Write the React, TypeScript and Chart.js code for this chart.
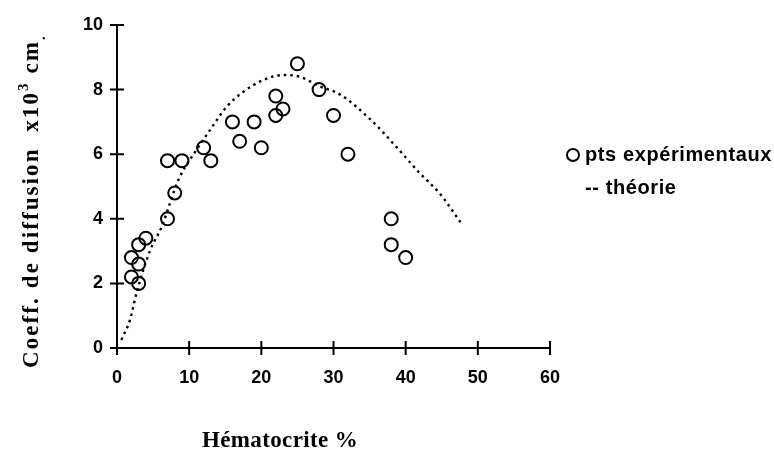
import React, { useEffect, useRef } from "react";
import { Chart, registerables } from "chart.js";

Chart.register(...registerables);

// ---- data ----
const xTicks = [0, 10, 20, 30, 40, 50, 60];
const yTicks = [0, 2, 4, 6, 8, 10];

const expX = [2, 2, 3, 3, 3, 4, 7, 7, 8, 9, 12, 13, 16, 17, 19, 20, 22, 22, 23, 25, 28, 30, 32, 38, 38, 40];
const expY = [2.8, 2.2, 3.2, 2.6, 2.0, 3.4, 4.0, 5.8, 4.8, 5.8, 6.2, 5.8, 7.0, 6.4, 7.0, 6.2, 7.8, 7.2, 7.4, 8.8, 8.0, 7.2, 6.0, 4.0, 3.2, 2.8];

const theoryX = [0.6, 1.8, 2.7, 4.6, 6.2, 8.5, 11, 12.9, 15.2, 17.5, 20.3, 23, 25.3, 28.1, 30.9, 35, 38.7, 42, 44.7, 47.7];
const theoryY = [0.25, 0.87, 1.7, 3.03, 3.76, 5.2, 6.13, 6.75, 7.47, 7.93, 8.3, 8.45, 8.4, 8.1, 7.85, 7.1, 6.23, 5.4, 4.79, 3.86];

const legendLabels = ["pts expérimentaux", "-- théorie"];
const xTitle = "Hématocrite %";
const yTitleMain = "Coeff. de diffusion  x10";
const yTitleSup = "3";
const yTitleUnit = " cm";

const TICK_FONT = { family: "'Liberation Sans', Arial, sans-serif", size: 18, weight: "bold" as const };

function drawSpaced(ctx: CanvasRenderingContext2D, text: string, x: number, y: number, spacing: number) {
  let cx = x;
  for (const ch of text) {
    ctx.fillText(ch, cx, y);
    cx += ctx.measureText(ch).width + spacing;
  }
  return cx;
}

function spacedWidth(ctx: CanvasRenderingContext2D, text: string, spacing: number) {
  let w = 0;
  for (const ch of text) w += ctx.measureText(ch).width + spacing;
  return w;
}

const decorPlugin = {
  id: "decor",
  afterDraw(chart: any) {
    const { ctx, chartArea: ca, scales } = chart;
    const xs = scales.x;
    const ys = scales.y;
    ctx.save();
    ctx.strokeStyle = "#000";
    ctx.fillStyle = "#000";
    ctx.lineWidth = 2;
    // axes
    ctx.beginPath();
    ctx.moveTo(ca.left, ys.getPixelForValue(yTicks[yTicks.length - 1]));
    ctx.lineTo(ca.left, ca.bottom);
    ctx.lineTo(xs.getPixelForValue(xTicks[xTicks.length - 1]), ca.bottom);
    ctx.stroke();
    // crossing ticks
    ctx.beginPath();
    for (const v of yTicks) {
      const py = ys.getPixelForValue(v);
      ctx.moveTo(ca.left - 7, py);
      ctx.lineTo(ca.left + 7, py);
    }
    for (const v of xTicks) {
      const px = xs.getPixelForValue(v);
      ctx.moveTo(px, ca.bottom - 7);
      ctx.lineTo(px, ca.bottom + 7);
    }
    ctx.stroke();

    // legend
    const lx = ca.right + 23;
    ctx.beginPath();
    ctx.arc(lx, 155, 6, 0, Math.PI * 2);
    ctx.stroke();
    ctx.font = "bold 20px 'Liberation Sans', Arial, sans-serif";
    ctx.textAlign = "left";
    ctx.textBaseline = "alphabetic";
    drawSpaced(ctx, legendLabels[0], lx + 12, 161, 0.6);
    drawSpaced(ctx, legendLabels[1], lx + 12, 194, 0.6);

    // x title
    ctx.font = "bold 23px 'Liberation Serif', 'Times New Roman', serif";
    {
      const natural = spacedWidth(ctx, xTitle, 0);
      const sp = (156 - natural) / xTitle.length;
      drawSpaced(ctx, xTitle, ca.left + 85, 447, sp);
    }

    // y title (rotated)
    ctx.save();
    ctx.translate(38, 368);
    ctx.rotate(-Math.PI / 2);
    const mainFont = "bold 23px 'Liberation Serif', 'Times New Roman', serif";
    const supFont = "bold 15px 'Liberation Serif', 'Times New Roman', serif";
    ctx.font = mainFont;
    const wMain = spacedWidth(ctx, yTitleMain, 0) + spacedWidth(ctx, yTitleUnit, 0);
    ctx.font = supFont;
    const wSup = spacedWidth(ctx, yTitleSup, 0);
    const nChars = yTitleMain.length + yTitleUnit.length + yTitleSup.length;
    const sp = (328 - wMain - wSup) / nChars;
    ctx.font = mainFont;
    let cx = drawSpaced(ctx, yTitleMain, 0, 0, sp);
    ctx.font = supFont;
    cx = drawSpaced(ctx, yTitleSup, cx, -10, sp);
    ctx.font = mainFont;
    cx = drawSpaced(ctx, yTitleUnit, cx, 0, sp);
    ctx.font = supFont;
    ctx.fillText(".", cx, 7);
    ctx.restore();

    ctx.restore();
  },
};

export default function App() {
  const ref = useRef<HTMLCanvasElement>(null);

  useEffect(() => {
    if (!ref.current) return;
    const expData = expX.map((x, i) => ({ x, y: expY[i] }));
    const theoryData = theoryX.map((x, i) => ({ x, y: theoryY[i] }));
    const chart = new Chart(ref.current, {
      type: "scatter",
      data: {
        datasets: [
          {
            label: legendLabels[0],
            data: expData,
            pointStyle: "circle",
            pointRadius: 6.5,
            pointBorderWidth: 2,
            borderColor: "#000",
            backgroundColor: "rgba(0,0,0,0)",
            showLine: false,
            order: 1,
          },
          {
            label: legendLabels[1],
            data: theoryData,
            showLine: true,
            borderColor: "#000",
            borderWidth: 2.4,
            borderDash: [2.5, 4],
            pointRadius: 0,
            tension: 0.4,
            cubicInterpolationMode: "monotone",
            fill: false,
            order: 2,
          } as any,
        ],
      },
      options: {
        animation: false,
        responsive: false,
        layout: { padding: { top: 25, right: 224, left: 0, bottom: 0 } },
        plugins: { legend: { display: false }, tooltip: { enabled: false } },
        scales: {
          x: {
            type: "linear",
            min: 0,
            max: 60,
            ticks: { stepSize: 10, font: TICK_FONT, color: "#000", padding: 19, maxRotation: 0 },
            grid: { display: false, drawTicks: false },
            border: { display: false },
            afterFit: (s: any) => {
              s.height = 102;
            },
          },
          y: {
            type: "linear",
            min: 0,
            max: 10,
            ticks: { stepSize: 2, font: TICK_FONT, color: "#000", padding: 14 },
            grid: { display: false, drawTicks: false },
            border: { display: false },
            afterFit: (s: any) => {
              s.width = 117;
            },
          },
        },
      },
      plugins: [decorPlugin],
    });
    return () => chart.destroy();
  }, []);

  return (
    <div style={{ position: "absolute", left: 0, top: 0, width: 774, height: 450, background: "#fff" }}>
      <canvas ref={ref} width={774} height={450} style={{ display: "block" }} />
    </div>
  );
}
